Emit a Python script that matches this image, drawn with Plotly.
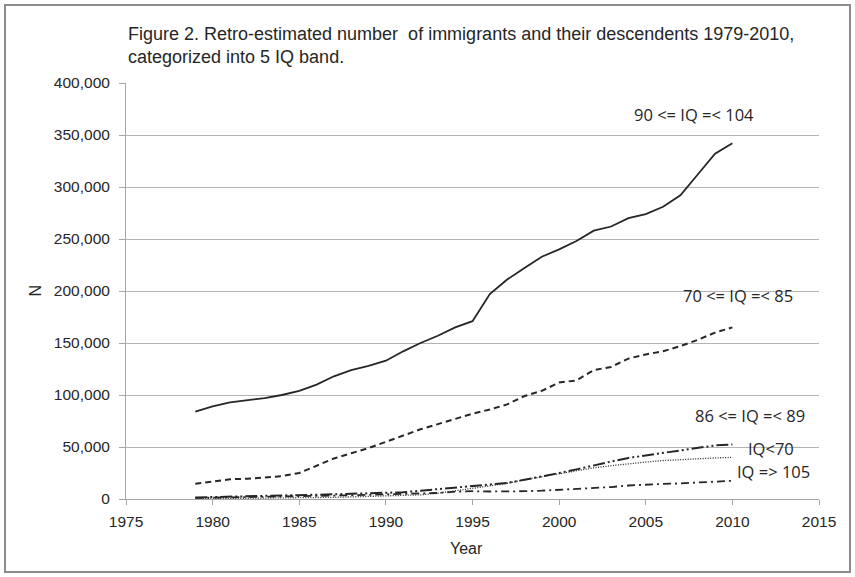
import plotly.graph_objects as go

years = list(range(1979, 2011))

iq_90_104 = [84000, 89000, 93000, 95000, 97000, 100000, 104000, 110000, 118000, 124000,
             128000, 133000, 142000, 150000, 157000, 165000, 171000, 197000, 211000, 222000,
             233000, 240000, 248000, 258000, 262000, 270000, 274000, 281000, 292000, 312000,
             332000, 342000]

iq_70_85 = [14600, 16500, 19000, 19500, 20500, 22000, 25000, 32000, 39000, 44000,
            49000, 55000, 61000, 67000, 72000, 77000, 82000, 86000, 91000, 99000,
            104000, 112000, 114000, 124000, 127000, 135000, 139000, 142000, 147000, 153000,
            160000, 165000]

iq_86_89 = [1500, 1800, 2200, 2500, 2800, 3200, 3600, 4000, 4500, 5000,
            5500, 6000, 6500, 8000, 9500, 10500, 12000, 13500, 15500, 18500,
            21500, 25000, 28500, 32500, 36000, 39500, 42000, 44000, 46500, 49500,
            51500, 52500]

iq_lt_70 = [200, 300, 400, 500, 600, 800, 1000, 1300, 1600, 2000,
            2400, 2800, 3300, 4000, 5500, 8000, 10500, 12500, 15000, 18500,
            21500, 24500, 27500, 30000, 32000, 34000, 35500, 37000, 38000, 39000,
            39500, 40000]

iq_ge_105 = [1000, 1200, 1500, 1800, 2000, 2300, 2600, 3000, 3300, 3600,
             4000, 4400, 4800, 5200, 5800, 7000, 7500, 7200, 7200, 7500,
             8000, 8800, 9500, 10500, 11500, 13000, 14000, 14500, 15000, 16000,
             16800, 17500]

series_names = ["90 <= IQ =< 104", "70 <= IQ =< 85", "86 <= IQ =< 89", "IQ<70", "IQ => 105"]
series_values = [iq_90_104, iq_70_85, iq_86_89, iq_lt_70, iq_ge_105]
series_dash = ["solid", "6px,4px", "12px,3px,2px,3px,2px,3px", "1px,1.5px", "8px,4px,2px,4px"]
series_width = [1.8, 2.0, 2.0, 1.3, 1.8]

label_x = [2007.8, 2010.3, 2011.0, 2012.25, 2012.4]
label_y = [370000, 196000, 80000, 49000, 26000]

x_ticks = list(range(1975, 2016, 5))
y_ticks = list(range(0, 400001, 50000))

narrow = "Liberation Sans Narrow, Arial Narrow, Liberation Sans, Arial"

fig = go.Figure()
for name, vals, dash, w in zip(series_names, series_values, series_dash, series_width):
    fig.add_trace(go.Scatter(x=years, y=vals, mode="lines", name=name,
                             line=dict(color="#262626", width=w, dash=dash),
                             showlegend=False))

for name, lx, ly in zip(series_names, label_x, label_y):
    fig.add_annotation(x=lx, y=ly, text=name, showarrow=False,
                       font=dict(family="Open Sans, Lato, sans-serif", size=16.5, color="#262626"),
                       xanchor="center", yanchor="middle")

fig.add_annotation(xref="paper", yref="paper", x=0.0, y=1.089, xanchor="left", yanchor="middle",
                   align="left", showarrow=False,
                   text="Figure 2. Retro-estimated number  of immigrants and their descendents 1979-2010,<br>categorized into 5 IQ band.",
                   font=dict(family=narrow, size=18, color="#262626"))

fig.add_annotation(xref="paper", yref="paper", x=-0.131, y=0.502, text="N", textangle=-90,
                   showarrow=False, xanchor="center", yanchor="middle",
                   font=dict(family=narrow, size=16, color="#262626"))
fig.add_annotation(xref="paper", yref="paper", x=0.492, y=-0.118, text="Year",
                   showarrow=False, xanchor="center", yanchor="middle",
                   font=dict(family=narrow, size=16, color="#262626"))

# outer border
fig.add_shape(type="rect", xref="paper", yref="paper", x0=-0.1746, x1=1.0447, y0=-0.1755, y1=1.1875,
              line=dict(color="#8c8c8c", width=2), fillcolor="rgba(0,0,0,0)", layer="below")

tickfont = dict(family=narrow, size=15.5, color="#262626")
fig.update_xaxes(range=[1975, 2015], tickvals=x_ticks, ticktext=[str(t) for t in x_ticks],
                 showgrid=False, zeroline=False, showline=True, linecolor="#a6a6a6", linewidth=1,
                 ticks="outside", ticklen=5, tickcolor="#a6a6a6", tickfont=tickfont,
                 ticklabelstandoff=3)
fig.update_yaxes(range=[0, 400000], tickvals=y_ticks, ticktext=[f"{t:,}" for t in y_ticks],
                 showgrid=True, gridcolor="#b3b3b3", gridwidth=1, zeroline=False,
                 showline=True, linecolor="#a6a6a6", linewidth=1,
                 ticks="outside", ticklen=6, tickcolor="#a6a6a6", tickfont=tickfont,
                 ticklabelstandoff=6)

fig.update_layout(width=855, height=577, margin=dict(l=126, r=36, t=83, b=78),
                  paper_bgcolor="white", plot_bgcolor="white")

fig.write_html("out.html")
